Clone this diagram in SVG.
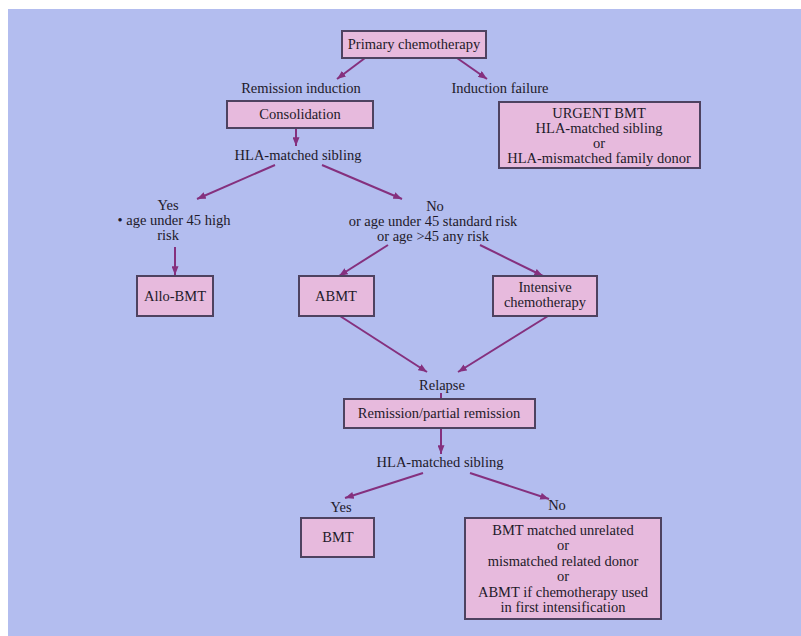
<svg xmlns="http://www.w3.org/2000/svg" width="801" height="636" viewBox="0 0 801 636">
<defs>
<style>
.bg{fill:#b3bdef}
.box{fill:#e7badd;stroke:#4e4260;stroke-width:2}
.t{font-family:"Liberation Serif","Times New Roman",serif;font-size:14.5px;fill:#1e1a2a;text-anchor:middle}
.c{stroke:#85307e;stroke-width:2;fill:none}
</style>
<marker id="ah" viewBox="0 0 10 8" refX="10" refY="4" markerWidth="9" markerHeight="7" markerUnits="userSpaceOnUse" orient="auto">
<path d="M0,0 L10,4 L0,8 z" fill="#85307e"/>
</marker>
</defs>
<rect x="0" y="0" width="801" height="636" fill="#ffffff"/>
<rect class="bg" x="8" y="9" width="793" height="627"/>

<g id="connectors">
<line class="c" x1="365" y1="58" x2="337" y2="79" marker-end="url(#ah)"/>
<line class="c" x1="457" y1="58" x2="487" y2="79" marker-end="url(#ah)"/>
<line class="c" x1="296" y1="128" x2="296" y2="146" marker-end="url(#ah)"/>
<line class="c" x1="275" y1="165" x2="197" y2="199" marker-end="url(#ah)"/>
<line class="c" x1="322" y1="165" x2="402" y2="199" marker-end="url(#ah)"/>
<line class="c" x1="175" y1="247" x2="175" y2="275" marker-end="url(#ah)"/>
<line class="c" x1="388" y1="245" x2="339" y2="276" marker-end="url(#ah)"/>
<line class="c" x1="480" y1="245" x2="543" y2="276" marker-end="url(#ah)"/>
<line class="c" x1="340" y1="316" x2="427" y2="372" marker-end="url(#ah)"/>
<line class="c" x1="548" y1="316" x2="458" y2="372" marker-end="url(#ah)"/>
<line class="c" x1="441" y1="393" x2="441" y2="398"/>
<line class="c" x1="441" y1="428" x2="441" y2="454" marker-end="url(#ah)"/>
<line class="c" x1="423" y1="473" x2="345" y2="498" marker-end="url(#ah)"/>
<line class="c" x1="470" y1="473" x2="549" y2="499" marker-end="url(#ah)"/>
</g>

<g id="primary">
<rect class="box" x="342" y="31" width="144" height="27"/>
<text class="t" x="414" y="49">Primary chemotherapy</text>
</g>
<g id="remission-induction">
<text class="t" x="301" y="93">Remission induction</text>
</g>
<g id="induction-failure">
<text class="t" x="500" y="93">Induction failure</text>
</g>
<g id="consolidation">
<rect class="box" x="227" y="101" width="146" height="27"/>
<text class="t" x="300" y="119">Consolidation</text>
</g>
<g id="urgent-bmt">
<rect class="box" x="499" y="102" width="201" height="66"/>
<text class="t" x="599" y="118">URGENT BMT</text>
<text class="t" x="599" y="133">HLA-matched sibling</text>
<text class="t" x="599" y="148">or</text>
<text class="t" x="599" y="163">HLA-mismatched family donor</text>
</g>
<g id="hla1">
<text class="t" x="298" y="160">HLA-matched sibling</text>
</g>
<g id="yes1">
<text class="t" x="168" y="210">Yes</text>
<text class="t" x="174" y="225">• age under 45 high</text>
<text class="t" x="168" y="240">risk</text>
</g>
<g id="no1">
<text class="t" x="435" y="211">No</text>
<text class="t" x="433" y="226">or age under 45 standard risk</text>
<text class="t" x="433" y="241">or age &gt;45 any risk</text>
</g>
<g id="allo-bmt">
<rect class="box" x="137" y="276" width="76" height="40"/>
<text class="t" x="175" y="301">Allo-BMT</text>
</g>
<g id="abmt">
<rect class="box" x="299" y="276" width="75" height="40"/>
<text class="t" x="336" y="301">ABMT</text>
</g>
<g id="intensive">
<rect class="box" x="493" y="276" width="104" height="40"/>
<text class="t" x="545" y="292">Intensive</text>
<text class="t" x="545" y="307">chemotherapy</text>
</g>
<g id="relapse">
<text class="t" x="442" y="390">Relapse</text>
</g>
<g id="remission-partial">
<rect class="box" x="344" y="399" width="191" height="29"/>
<text class="t" x="439" y="418">Remission/partial remission</text>
</g>
<g id="hla2">
<text class="t" x="440" y="467">HLA-matched sibling</text>
</g>
<g id="yes2">
<text class="t" x="341" y="512">Yes</text>
</g>
<g id="bmt">
<rect class="box" x="301" y="518" width="73" height="39"/>
<text class="t" x="338" y="542">BMT</text>
</g>
<g id="no2">
<text class="t" x="557" y="510">No</text>
</g>
<g id="bmt-alt">
<rect class="box" x="465" y="518" width="196" height="101"/>
<text class="t" x="563" y="535">BMT matched unrelated</text>
<text class="t" x="563" y="550">or</text>
<text class="t" x="563" y="566">mismatched related donor</text>
<text class="t" x="563" y="581">or</text>
<text class="t" x="563" y="597">ABMT if chemotherapy used</text>
<text class="t" x="563" y="612">in first intensification</text>
</g>
</svg>
